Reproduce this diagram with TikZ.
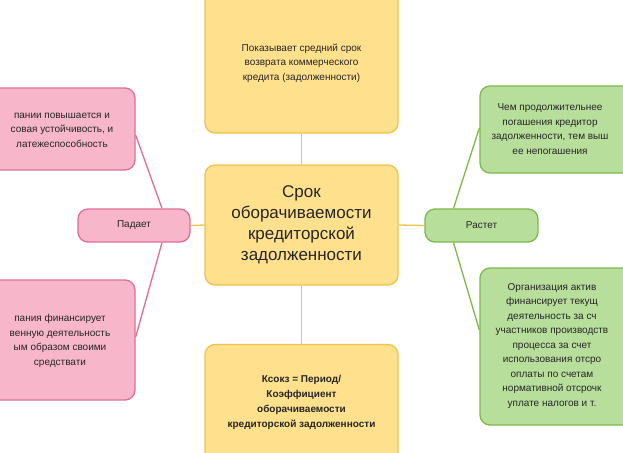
\documentclass[tikz,border=0pt]{standalone}
\usepackage{fontspec}
\setmainfont{Liberation Sans}
\begin{document}
\begin{tikzpicture}[x=1pt,y=-1pt,
  yel/.style={draw=yelB,fill=yelF,line width=1.3pt,rounded corners=10pt},
  pnk/.style={draw=pnkB,fill=pnkF,line width=1.3pt,rounded corners=10pt},
  grn/.style={draw=grnB,fill=grnF,line width=1.3pt,rounded corners=10pt},
  txt/.style={align=center,font=\fontsize{10}{14.5}\selectfont,text=black!85},
  ly/.style={draw=yelB,line width=1.3pt},
  lp/.style={draw=pnkB,line width=1.3pt},
  lg/.style={draw=grnB,line width=1.3pt}]
\definecolor{yelF}{HTML}{FFE08C}\definecolor{yelB}{HTML}{F2C24A}
\definecolor{pnkF}{HTML}{F8B6CB}\definecolor{pnkB}{HTML}{DE6E98}
\definecolor{grnF}{HTML}{B8DE9C}\definecolor{grnB}{HTML}{7DB84C}
\useasboundingbox (0,0) rectangle (623,452);
\clip (0,0) rectangle (623,452);
\fill[white] (0,0) rectangle (623,452);
% boxes
\node[yel,minimum width=193pt,minimum height=145pt] (top) at (301.5,60.5) {};
\node[yel,minimum width=193pt,minimum height=120pt] (ctr) at (301.5,225) {};
\node[yel,minimum width=193pt,minimum height=125pt] (bot) at (301.5,407) {};
\node[pnk,minimum width=112pt,minimum height=33pt] (pad) at (134,225.5) {};
\node[grn,minimum width=113pt,minimum height=33pt] (ras) at (481.5,225.5) {};
\node[pnk,minimum width=150pt,minimum height=82pt] (lt) at (60,129) {};
\node[pnk,minimum width=150pt,minimum height=120pt] (lb) at (60,340) {};
\node[grn,minimum width=160pt,minimum height=87pt] (rt) at (560,129.5) {};
\node[grn,minimum width=160pt,minimum height=157pt] (rb) at (560,346.5) {};
% connectors
\draw[ly] (top.south) -- (ctr.north);
\draw[ly] (ctr.south) -- (bot.north);
\draw[ly] (ctr.west) -- (pad.east);
\draw[ly] (ctr.east) -- (ras.west);
\coordinate (p1) at ([xshift=28pt]pad.north);
\coordinate (p2) at ([xshift=28pt]pad.south);
\coordinate (r1) at ([xshift=-28pt]ras.north);
\coordinate (r2) at ([xshift=-28pt]ras.south);
\draw[lp] (p1) -- (lt.east|-0,135);
\draw[lp] (p2) -- (lb.east|-0,337);
\draw[lg] (r1) -- (rt.west|-0,128);
\draw[lg] (r2) -- (rb.west|-0,330);
% texts
\node[txt] at (301.5,63) {Показывает средний срок\\возврата коммерческого\\кредита (задолженности)};
\node[txt,font=\fontsize{17}{21}\selectfont] at (301.5,225) {Срок\\оборачиваемости\\кредиторской\\задолженности};
\node[txt,font=\fontsize{10}{15}\selectfont\bfseries] at (301.5,402) {Ксокз = Период/\\Коэффициент\\оборачиваемости\\кредиторской задолженности};
\node[txt] at (pad) {Падает};
\node[txt] at (ras) {Растет};
\node[txt] at (62,130) {пании повышается и\\совая устойчивость, и\\латежеспособность};
\node[txt] at (60,341) {пания финансирует\\венную деятельность\\ым образом своими\\средствати};
\node[txt] at (550,129) {Чем продолжительнее\\погашения кредитор\\задолженности, тем выш\\ее непогашения};
\node[txt] at (552,346) {Организация актив\\финансирует текущ\\деятельность за сч\\участников производств\\процесса за счет\\использования отсро\\оплаты по счетам\\нормативной отсрочк\\уплате налогов и т.};
\end{tikzpicture}
\end{document}
